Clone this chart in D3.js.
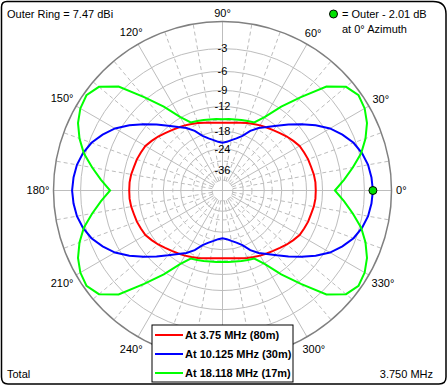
<!DOCTYPE html>
<html>
<head>
<meta charset="utf-8">
<script src="https://cdn.jsdelivr.net/npm/d3@7"></script>
<style>
  body { margin: 0; background: #fff; }
  svg { display: block; font-family: "Liberation Sans", Arial, sans-serif; }
</style>
</head>
<body>
<svg width="448" height="387"></svg>
<script>
// azimuth angles in degrees, 5 degree steps
const angles = d3.range(0, 360, 5);

// gain relative to outer ring (dB)
const red80m = [
  -10.2,-10.2,-10.3,-10.5,-10.6,-10.8,-11.0,-11.5,-12.0,-12.6,-13.1,-13.5,-13.9,-14.3,-14.7,-15.1,-15.4,-15.6,-15.7,
  -15.6,-15.4,-15.1,-14.7,-14.3,-13.9,-13.5,-13.1,-12.6,-12.0,-11.5,-11.0,-10.8,-10.6,-10.5,-10.3,-10.2,-10.2,
  -10.2,-10.3,-10.5,-10.6,-10.8,-11.0,-11.5,-12.0,-12.6,-13.1,-13.5,-13.9,-14.3,-14.7,-15.1,-15.4,-15.6,-15.7,
  -15.6,-15.4,-15.1,-14.7,-14.3,-13.9,-13.5,-13.1,-12.6,-12.0,-11.5,-11.0,-10.8,-10.6,-10.5,-10.3,-10.2
];
const blue30m = [
  -2.0,-2.1,-2.3,-2.7,-3.3,-4.2,-5.3,-6.8,-8.5,-10.2,-11.9,-13.4,-14.6,-16.2,-18.3,-19.6,-20.5,-21.3,-21.7,
  -21.3,-20.5,-19.6,-18.3,-16.2,-14.6,-13.4,-11.9,-10.2,-8.5,-6.8,-5.3,-4.2,-3.3,-2.7,-2.3,-2.1,-2.0,
  -2.1,-2.3,-2.7,-3.3,-4.2,-5.3,-6.8,-8.5,-10.2,-11.9,-13.4,-14.6,-16.2,-18.3,-19.6,-20.5,-21.3,-21.7,
  -21.3,-20.5,-19.6,-18.3,-16.2,-14.6,-13.4,-11.9,-10.2,-8.5,-6.8,-5.3,-4.2,-3.3,-2.7,-2.3,-2.1
];
const green17m = [
  -7.0,-5.6,-4.2,-2.8,-1.8,-1.0,-0.5,-0.3,-0.8,-2.4,-5.6,-8.6,-11.8,-13.9,-14.2,-14.4,-14.6,-14.7,-14.8,
  -14.7,-14.6,-14.4,-14.2,-13.9,-11.8,-8.6,-5.6,-2.4,-0.8,-0.3,-0.5,-1.0,-1.8,-2.8,-4.2,-5.6,-7.0,
  -5.6,-4.2,-2.8,-1.8,-1.0,-0.5,-0.3,-0.8,-2.4,-5.6,-8.6,-11.8,-13.9,-14.2,-14.4,-14.6,-14.7,-14.8,
  -14.7,-14.6,-14.4,-14.2,-13.9,-11.8,-8.6,-5.6,-2.4,-0.8,-0.3,-0.5,-1.0,-1.8,-2.8,-4.2,-5.6
];

const seriesNames = ['At 3.75 MHz (80m)', 'At 10.125 MHz (30m)', 'At 18.118 MHz (17m)'];
const seriesColors = ['#ff0000', '#0000ff', '#00ff00'];

// grid
const ringLabels = [-3, -6, -9, -12, -18, -24, -36];
const dashedRings = [-15, -21, -30, -48];
const angleLabels = [0, 30, 60, 90, 120, 150, 180, 210, 240, 300, 330]; // 270 sits under the legend

const svg = d3.select('svg');
const cx = 222.5, cy = 190.5, R = 169;

// ARRL log scale: radius = R * field^0.506
const rscale = d3.scalePow().exponent(0.5061).domain([0, 1]).range([0, R]);
const rad = db => rscale(Math.pow(10, db / 20));

const g = svg.append('g').attr('transform', `translate(${cx},${cy})`);

// dashed radials every 10 deg, solid every 30
d3.range(0, 360, 10).forEach(a => {
  const t = a * Math.PI / 180;
  const r0 = rad(-48);
  g.append('line')
    .attr('x1', r0 * Math.cos(t)).attr('y1', -r0 * Math.sin(t))
    .attr('x2', R * Math.cos(t)).attr('y2', -R * Math.sin(t))
    .attr('stroke', '#bdbdbd')
    .attr('stroke-dasharray', a % 30 === 0 ? null : '4,3');
});
g.append('line').attr('x1', -R).attr('x2', R).attr('stroke', '#bdbdbd');
g.append('line').attr('y1', -R).attr('y2', R).attr('stroke', '#bdbdbd');

dashedRings.forEach(d => {
  g.append('circle').attr('r', rad(d)).attr('fill', 'none')
    .attr('stroke', '#bdbdbd').attr('stroke-dasharray', '4,3');
});
ringLabels.forEach(d => {
  g.append('circle').attr('r', rad(d)).attr('fill', 'none').attr('stroke', '#bdbdbd');
});
g.append('circle').attr('r', R).attr('fill', 'none').attr('stroke', '#808080').attr('stroke-width', 1.5);

// ring labels on the vertical axis
ringLabels.forEach(d => {
  g.append('text').attr('x', 0).attr('y', -rad(d)).attr('dy', '0.35em')
    .attr('text-anchor', 'middle').attr('font-size', 11).text(d);
});

// angle labels
angleLabels.forEach(a => {
  const t = a * Math.PI / 180;
  const c = Math.cos(t), s = Math.sin(t);
  const txt = a + '°';
  const w = txt.length * 5.8, h = 9;
  const r = R + 4 + Math.abs(c) * w / 2 + Math.abs(s) * h / 2;
  g.append('text').attr('x', r * c).attr('y', -r * s).attr('dy', '0.35em')
    .attr('text-anchor', 'middle').attr('font-size', 11).text(txt);
});

// patterns
const line = d3.lineRadial()
  .angle((d, i) => (90 - angles[i]) * Math.PI / 180)
  .radius(d => rad(d))
  .curve(d3.curveLinearClosed);

[red80m, blue30m, green17m].forEach((s, i) => {
  g.append('path').attr('d', line(s)).attr('fill', 'none')
    .attr('stroke', seriesColors[i]).attr('stroke-width', 2);
});

// max marker
g.append('circle').attr('cx', rad(blue30m[0])).attr('cy', 0).attr('r', 4)
  .attr('fill', '#00e000').attr('stroke', '#000');

// frame, corners not all equal
const frame = d3.path();
frame.moveTo(7, 1.5);
frame.lineTo(433, 1.5);
frame.quadraticCurveTo(446, 1.5, 446, 14);
frame.lineTo(446, 377);
frame.quadraticCurveTo(446, 384, 439, 384);
frame.lineTo(8, 384);
frame.quadraticCurveTo(1.5, 384, 1.5, 377);
frame.lineTo(1.5, 7);
frame.quadraticCurveTo(1.5, 1.5, 7, 1.5);
svg.append('path').attr('d', frame.toString()).attr('fill', 'none')
  .attr('stroke', '#000').attr('stroke-width', 1.5);

svg.append('text').attr('x', 7).attr('y', 18).attr('font-size', 11).text('Outer Ring = 7.47 dBi');
svg.append('circle').attr('cx', 333.5).attr('cy', 14).attr('r', 4).attr('fill', '#00e000').attr('stroke', '#000');
svg.append('text').attr('x', 342).attr('y', 18).attr('font-size', 11).text('= Outer - 2.01 dB');
svg.append('text').attr('x', 342).attr('y', 33).attr('font-size', 11).text('at 0° Azimuth');
svg.append('text').attr('x', 7).attr('y', 378).attr('font-size', 11).text('Total');
svg.append('text').attr('x', 433).attr('y', 378).attr('text-anchor', 'end').attr('font-size', 11).text('3.750 MHz');

// legend
const lg = svg.append('g').attr('transform', 'translate(152,325)');
lg.append('rect').attr('width', 141).attr('height', 57).attr('fill', '#fff').attr('stroke', '#000');
seriesNames.forEach((n, i) => {
  const y = 10 + i * 19;
  lg.append('line').attr('x1', 3).attr('x2', 31).attr('y1', y).attr('y2', y)
    .attr('stroke', seriesColors[i]).attr('stroke-width', 2);
  lg.append('text').attr('x', 33).attr('y', y).attr('dy', '0.35em')
    .attr('font-size', 11).attr('font-weight', 'bold').text(n);
});
</script>
</body>
</html>
